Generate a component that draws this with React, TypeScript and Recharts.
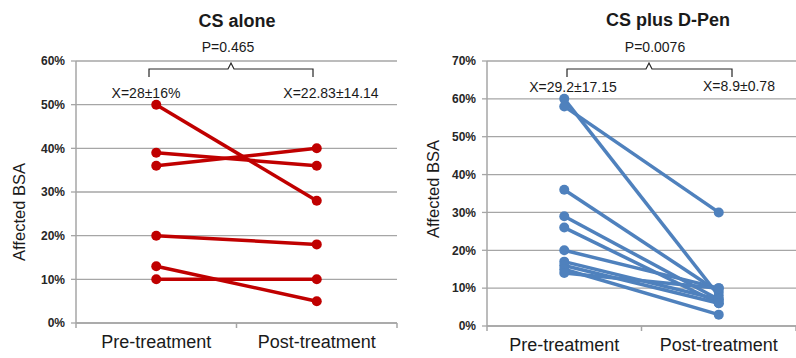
import { CartesianGrid, Line, LineChart, XAxis, YAxis } from "recharts";

const categories = ["Pre-treatment", "Post-treatment"];

// CS alone (% affected BSA, one entry per patient)
const csAlonePre = [50, 39, 36, 20, 13, 10];
const csAlonePost = [28, 36, 40, 18, 5, 10];
const csAloneTicks = [0, 10, 20, 30, 40, 50, 60];

// CS plus D-Pen
const dPenPre = [60, 58, 36, 29, 26, 20, 17, 16, 15, 14];
const dPenPost = [8, 30, 9, 7, 6, 10, 7, 6, 3, 10];
const dPenTicks = [0, 10, 20, 30, 40, 50, 60, 70];

const xTicks = [0, 0.5, 1, 1.5, 2];

const FONT = "'Liberation Sans', Arial, sans-serif";
const RED = "#c00000";
const BLUE = "#4f81bd";
const GRID = "#a6a6a6";

function buildRows(pre: number[], post: number[]) {
  const rows = [pre, post].map((vals, i) => {
    const row: Record<string, number> = { x: i + 0.5 };
    vals.forEach((v, j) => {
      row["p" + j] = v;
    });
    return row;
  });
  return rows;
}

function CategoryTick(props: any) {
  const { x, y, payload } = props;
  const v = payload.value as number;
  if (Number.isInteger(v)) {
    return <line x1={x} x2={x} y1={y} y2={y + 5} stroke={GRID} strokeWidth={1.5} />;
  }
  return (
    <text
      x={x}
      y={y + 25}
      textAnchor="middle"
      fontFamily={FONT}
      fontSize={18}
      fill="#1a1a1a"
    >
      {categories[Math.floor(v)]}
    </text>
  );
}

interface PanelProps {
  left: number;
  width: number;
  pre: number[];
  post: number[];
  ticks: number[];
  color: string;
  yAxisWidth: number;
  bottom: number;
  right: number;
}

function Panel({ left, width, pre, post, ticks, color, yAxisWidth, bottom, right }: PanelProps) {
  const rows = buildRows(pre, post);
  return (
    <div style={{ position: "absolute", left, top: 0 }}>
      <LineChart
        width={width}
        height={358}
        data={rows}
        margin={{ top: 61, right, bottom: 0, left: 0 }}
      >
        <CartesianGrid vertical={false} stroke={GRID} strokeWidth={1.3} />
        <XAxis
          dataKey="x"
          type="number"
          domain={[0, 2]}
          ticks={xTicks}
          interval={0}
          height={bottom}
          tickLine={false}
          tickSize={0}
          tickMargin={0}
          axisLine={{ stroke: GRID, strokeWidth: 1.5 }}
          tick={<CategoryTick />}
        />
        <YAxis
          width={yAxisWidth}
          domain={[ticks[0], ticks[ticks.length - 1]]}
          ticks={ticks}
          interval={0}
          tickFormatter={(v) => `${v}%`}
          tickSize={5}
          tickMargin={6}
          tickLine={{ stroke: GRID, strokeWidth: 1.3 }}
          axisLine={{ stroke: GRID, strokeWidth: 1.5 }}
          tick={{ fontFamily: FONT, fontSize: 12, fontWeight: 700, fill: "#262626" }}
        />
        {pre.map((_, j) => (
          <Line
            key={j}
            dataKey={"p" + j}
            stroke={color}
            strokeWidth={3.5}
            dot={{ r: 5, fill: color, stroke: color, strokeWidth: 0 }}
            activeDot={false}
            isAnimationActive={false}
          />
        ))}
      </LineChart>
    </div>
  );
}

function Bracket({ x1, x2, mid, y }: { x1: number; x2: number; mid: number; y: number }) {
  return (
    <path
      d={`M${x1},${y + 8} L${x1},${y} L${mid - 3},${y} L${mid},${y - 6} L${mid + 3},${y} L${x2},${y} L${x2},${y + 8}`}
      fill="none"
      stroke="#262626"
      strokeWidth={1.2}
    />
  );
}

export default function App() {
  const txt = { fontFamily: FONT, fill: "#1a1a1a" };
  return (
    <div
      style={{
        position: "absolute",
        left: 0,
        top: 0,
        width: 796,
        height: 358,
        overflow: "hidden",
        background: "#fff",
      }}
    >
      <Panel
        left={0}
        width={400}
        pre={csAlonePre}
        post={csAlonePost}
        ticks={csAloneTicks}
        color={RED}
        yAxisWidth={76}
        bottom={35}
        right={3}
      />
      <Panel
        left={400}
        width={396}
        pre={dPenPre}
        post={dPenPost}
        ticks={dPenTicks}
        color={BLUE}
        yAxisWidth={87}
        bottom={32}
        right={0}
      />
      <svg
        width={796}
        height={358}
        style={{ position: "absolute", left: 0, top: 0, pointerEvents: "none" }}
      >
        <text x={237} y={27} textAnchor="middle" fontSize={18} fontWeight={700} {...txt}>
          CS alone
        </text>
        <text x={228} y={52} textAnchor="middle" fontSize={14} {...txt}>
          P=0.465
        </text>
        <Bracket x1={149} x2={313} mid={231} y={69} />
        <text x={146} y={98} textAnchor="middle" fontSize={14} {...txt}>
          X=28±16%
        </text>
        <text x={331} y={98} textAnchor="middle" fontSize={14} {...txt}>
          X=22.83±14.14
        </text>
        <text
          transform="translate(25,212) rotate(-90)"
          textAnchor="middle"
          fontSize={16.5}
          {...txt}
        >
          Affected BSA
        </text>

        <text x={668} y={26} textAnchor="middle" fontSize={18} fontWeight={700} {...txt}>
          CS plus D-Pen
        </text>
        <text x={655} y={52} textAnchor="middle" fontSize={14} {...txt}>
          P=0.0076
        </text>
        <Bracket x1={567} x2={732} mid={649} y={69} />
        <text x={573} y={92} textAnchor="middle" fontSize={14} {...txt}>
          X=29.2±17.15
        </text>
        <text x={739} y={91} textAnchor="middle" fontSize={14} {...txt}>
          X=8.9±0.78
        </text>
        <text
          transform="translate(439,189) rotate(-90)"
          textAnchor="middle"
          fontSize={16.5}
          {...txt}
        >
          Affected BSA
        </text>
      </svg>
    </div>
  );
}
